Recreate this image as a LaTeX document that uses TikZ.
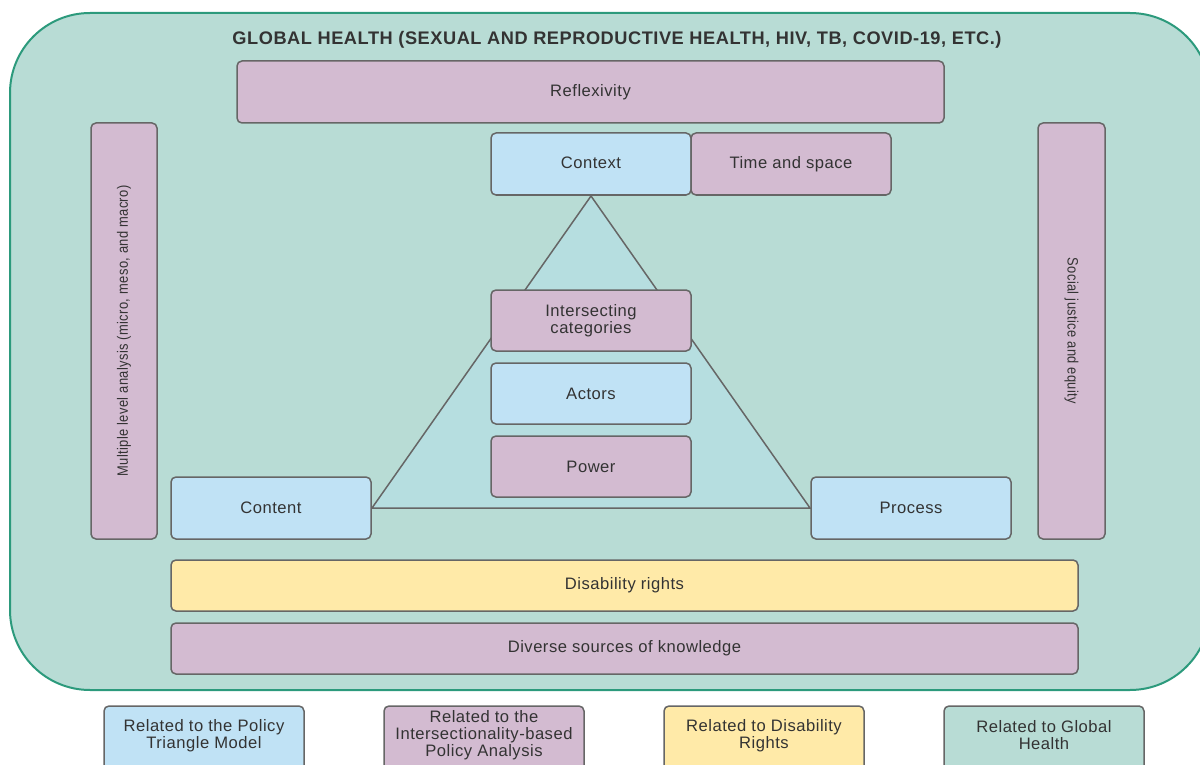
\documentclass[tikz,border=0pt]{standalone}
\usepackage{fontspec}
\setmainfont{Liberation Sans}[LetterSpace=3]
\usepackage{graphicx}
\definecolor{bgG}{RGB}{184,220,213}
\definecolor{triG}{RGB}{182,222,224}
\definecolor{outerB}{RGB}{44,154,124}
\definecolor{boxP}{RGB}{211,187,209}
\definecolor{boxB}{RGB}{192,226,245}
\definecolor{boxY}{RGB}{255,234,168}
\definecolor{edgeG}{RGB}{102,102,102}
\definecolor{txtG}{RGB}{51,51,51}
\tikzset{
  bx/.style={draw=edgeG, line width=1.5pt, rounded corners=5pt},
  pbox/.style={bx, fill=boxP},
  bbox/.style={bx, fill=boxB},
  ybox/.style={bx, fill=boxY},
  gbox/.style={bx, fill=bgG},
  lbl/.style={text=txtG, font=\fontsize{16.6}{17}\selectfont, align=center},
  rlbl/.style={text=txtG, font=\fontsize{15}{17}\selectfont, align=center},
}
\begin{document}
\begin{tikzpicture}[x=1pt,y=-1pt]
\useasboundingbox (0,0) rectangle (1200,765);
\clip (0,0) rectangle (1200,765);
% outer frame
\draw[fill=bgG, draw=outerB, line width=2pt, rounded corners=80pt] (10,13) rectangle (1210,690);
\node[font=\bfseries\fontsize{18.2}{20}\selectfont, text=txtG] (title) at (617,39.5) {GLOBAL HEALTH (SEXUAL AND REPRODUCTIVE HEALTH, HIV, TB, COVID-19, ETC.)};
% triangle
\coordinate (tA) at (591,196);
\coordinate (tB) at (372,508);
\coordinate (tC) at (810,508);
\draw[fill=triG, draw=edgeG, line width=1.5pt, line join=miter] (tA) -- (tB) -- (tC) -- cycle;
% boxes
\draw[pbox] (237,61) rectangle (944,123) node[lbl, midway] (refl) {Reflexivity};
\draw[pbox] (91,123) rectangle (157,539) node[rlbl, midway, rotate=90] (multi) {\scalebox{0.86}[1]{Multiple level analysis (micro, meso, and macro)}};
\draw[pbox] (1038,123) rectangle (1105,539) node[rlbl, midway, rotate=-90] (social) {\scalebox{0.86}[1]{Social justice and equity}};
\draw[bbox] (491,133) rectangle (691,195) node[lbl, midway, yshift=1.5pt] (context) {Context};
\draw[pbox] (691,133) rectangle (891,195) node[lbl, midway] (time) {Time and space};
\draw[pbox] (491,290) rectangle (691,351) node[lbl, midway] (inter) {Intersecting\\categories};
\draw[bbox] (491,363) rectangle (691,424) node[lbl, midway] (actors) {Actors};
\draw[pbox] (491,436) rectangle (691,497) node[lbl, midway] (power) {Power};
\draw[bbox] (171,477) rectangle (371,539) node[lbl, midway] (content) {Content};
\draw[bbox] (811,477) rectangle (1011,539) node[lbl, midway] (process) {Process};
\draw[ybox] (171,560) rectangle (1078,611) node[lbl, midway] (dis) {Disability rights};
\draw[pbox] (171,623) rectangle (1078,674) node[lbl, midway] (div) {Diverse sources of knowledge};
% legend
\draw[bbox] (104,706) rectangle (304,780);
\node[lbl] (l1) at (204,735.5) {Related to the Policy\\Triangle Model};
\draw[pbox] (384,706) rectangle (584,780);
\node[lbl] (l2) at (484,735.5) {Related to the\\Intersectionality-based\\Policy Analysis};
\draw[ybox] (664,706) rectangle (864,780);
\node[lbl] (l3) at (764,735.5) {Related to Disability\\Rights};
\draw[gbox] (944,706) rectangle (1144,780);
\node[lbl] (l4) at (1044,735.5) {Related to Global\\Health};
\end{tikzpicture}
\end{document}
